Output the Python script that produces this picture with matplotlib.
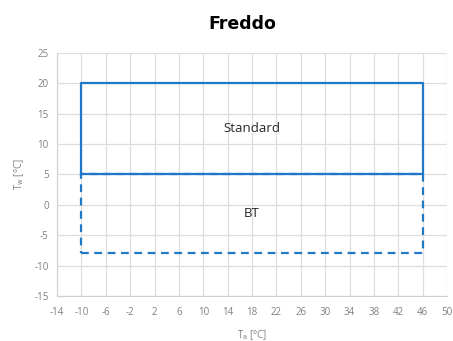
import matplotlib
matplotlib.use("Agg")
from matplotlib import pyplot as plt

# operating envelope outlines (air temperature vs water temperature)
std_ta = [-10, 46, 46, -10, -10]
std_tw = [5, 5, 20, 20, 5]
bt_ta = [-10, 46, 46, -10, -10]
bt_tw = [-8, -8, 5, 5, -8]

x_ticks = list(range(-14, 51, 4))
y_ticks = list(range(-15, 26, 5))

blue = '#1f78c8'
grey = '#808080'

plt.rcParams['font.family'] = ['Open Sans', 'DejaVu Sans']
plt.rcParams['axes.unicode_minus'] = False

fig = plt.figure(figsize=(4.53, 3.41), dpi=100)
ax = fig.add_axes([0.126, 0.132, 0.861, 0.713])

ax.plot(std_ta, std_tw, '-', color=blue, lw=1.6)
ax.plot(bt_ta, bt_tw, '--', color=blue, lw=1.6, dashes=(3.5, 2.5))

ax.text(18, 12.6, 'Standard', ha='center', va='center', fontsize=9.5, color='#262626')
ax.text(18, -1.5, 'BT', ha='center', va='center', fontsize=9.5, color='#262626')

ax.set_xlim(-14, 50)
ax.set_ylim(-15, 25)
ax.set_xticks(x_ticks)
ax.set_yticks(y_ticks)
ax.grid(True, color='#dddddd', lw=0.9)
ax.set_axisbelow(True)
for s in ax.spines.values():
    s.set_visible(False)
ax.spines['left'].set_visible(True)
ax.spines['bottom'].set_visible(True)
ax.spines['left'].set_color('#d0d0d0')
ax.spines['bottom'].set_color('#d0d0d0')
ax.tick_params(length=0, labelsize=7, labelcolor=grey, pad=6)
ax.tick_params(axis='x', pad=8)

ax.set_xlabel('T$_{\\mathrm{a}}$ [°C]', fontsize=7, color=grey, labelpad=7)
ax.set_ylabel('T$_{\\mathrm{w}}$ [°C]', fontsize=7, color=grey, labelpad=6)

fig.suptitle('Freddo', x=0.536, y=0.955, fontsize=12.5, fontweight='bold',
             family=['DejaVu Sans'])

fig.savefig('out.png', dpi=100)
